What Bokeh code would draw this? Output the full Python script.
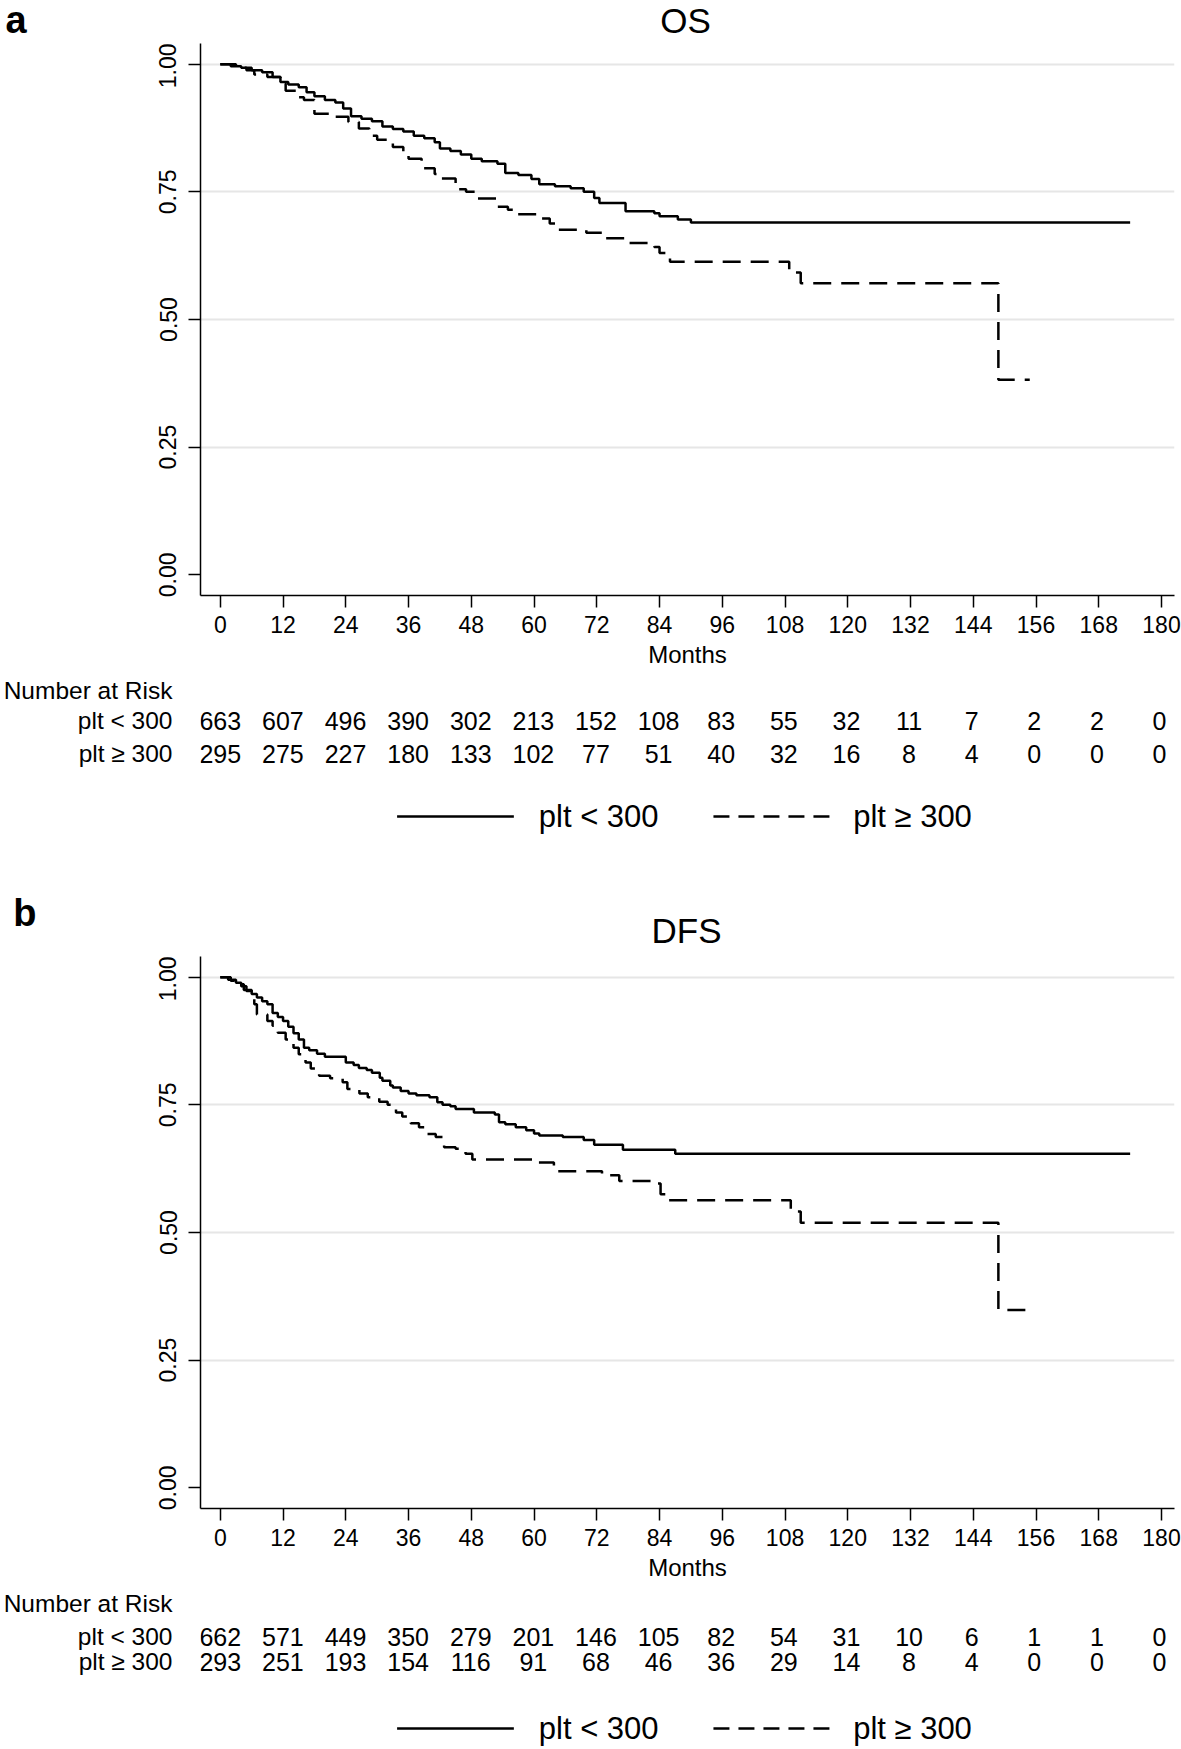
from bokeh.plotting import figure
from bokeh.layouts import column
from bokeh.models import Range1d, FixedTicker, NumeralTickFormatter, LinearAxis
from bokeh.core.properties import value
from bokeh.embed import file_html
from bokeh.resources import INLINE

# ---------------- data ----------------
month_ticks = list(range(0, 181, 12))
surv_ticks = [0.0, 0.25, 0.5, 0.75, 1.0]
grid_ticks = [0.25, 0.5, 0.75, 1.0]
groups = ["plt < 300", "plt \u2265 300"]
risk_title = "Number at Risk"
panel_titles = ["OS", "DFS"]
panel_tags = ["a", "b"]

# OS, plt < 300 (step times in months, survival after step)
os_t_lo = [0, 2, 4, 6, 8, 10, 11.5, 13, 15, 16.5, 18, 20, 22, 23.5, 25, 27, 29, 31, 33, 35,
           37, 39, 41, 42, 44, 46, 48, 50, 53, 54.5, 57, 59.5, 61, 64, 67, 69.5, 71.5, 72.5,
           77.5, 83, 84, 87.5, 90, 174]
os_s_lo = [1.0, 0.996, 0.993, 0.988, 0.984, 0.975, 0.965, 0.960, 0.955, 0.945, 0.937, 0.930,
           0.925, 0.913, 0.898, 0.893, 0.888, 0.878, 0.873, 0.868, 0.860, 0.855, 0.847, 0.835,
           0.830, 0.823, 0.815, 0.810, 0.805, 0.787, 0.783, 0.775, 0.765, 0.761, 0.757, 0.750,
           0.738, 0.728, 0.712, 0.708, 0.702, 0.696, 0.690, 0.690]
# OS, plt >= 300
os_t_hi = [0, 3, 5, 6.5, 9, 11.5, 12.5, 14.5, 16, 18, 22, 24.5, 26.5, 28.5, 30, 33, 35, 36,
           38.5, 41, 42, 45, 47, 49, 53, 55, 56.5, 61, 63, 64.5, 70, 73, 77.5, 83, 84, 86,
           108.8, 111, 148.8, 154.8]
os_s_hi = [1.0, 0.993, 0.988, 0.980, 0.975, 0.962, 0.948, 0.935, 0.930, 0.903, 0.897, 0.887,
           0.874, 0.860, 0.852, 0.838, 0.825, 0.815, 0.796, 0.785, 0.776, 0.755, 0.750, 0.737,
           0.721, 0.715, 0.706, 0.698, 0.688, 0.676, 0.670, 0.659, 0.650, 0.642, 0.630, 0.613,
           0.592, 0.571, 0.382, 0.382]

# DFS, plt < 300
dfs_t_lo = [0, 1.5, 3, 4, 5, 6, 7, 8, 9, 10, 11, 12, 13, 14, 15, 16, 17, 18.5, 20, 24, 25.5,
            26.5, 28, 29, 30.5, 31, 32.5, 33, 34.5, 36, 37.5, 40, 41.5, 42.5, 44, 45, 48.5,
            52.5, 53.3, 54.5, 56.5, 58.5, 60, 61, 65.5, 69.5, 71.5, 77, 87, 174]
dfs_s_lo = [1.0, 0.995, 0.989, 0.982, 0.973, 0.967, 0.960, 0.953, 0.947, 0.930, 0.922, 0.914,
            0.903, 0.890, 0.878, 0.862, 0.857, 0.850, 0.844, 0.833, 0.828, 0.822, 0.818, 0.813,
            0.803, 0.797, 0.788, 0.784, 0.777, 0.772, 0.769, 0.765, 0.755, 0.750, 0.747, 0.742,
            0.735, 0.731, 0.716, 0.712, 0.706, 0.700, 0.694, 0.690, 0.687, 0.681, 0.672, 0.662,
            0.654, 0.654]
# DFS, plt >= 300
dfs_t_hi = [0, 2, 3, 4.5, 6, 6.5, 7, 9, 10, 11, 12.5, 14, 15, 16.3, 17.3, 18.9, 21, 23.4, 24.3,
            26.6, 28.2, 30.4, 32, 33.6, 34.8, 36.4, 38, 39.3, 41.2, 42.8, 45, 46.9, 48.2, 60.3,
            63.8, 73, 76.3, 83.3, 84.2, 85.8, 109.1, 111, 148.8, 154.8]
dfs_s_hi = [1.0, 0.993, 0.986, 0.975, 0.960, 0.947, 0.927, 0.914, 0.905, 0.891, 0.878, 0.862,
            0.849, 0.833, 0.821, 0.807, 0.802, 0.794, 0.781, 0.772, 0.765, 0.756, 0.750, 0.735,
            0.727, 0.714, 0.706, 0.693, 0.687, 0.667, 0.664, 0.654, 0.643, 0.637, 0.620, 0.612,
            0.601, 0.596, 0.575, 0.563, 0.541, 0.519, 0.348, 0.348]

# numbers at risk
os_risk_lo = [663, 607, 496, 390, 302, 213, 152, 108, 83, 55, 32, 11, 7, 2, 2, 0]
os_risk_hi = [295, 275, 227, 180, 133, 102, 77, 51, 40, 32, 16, 8, 4, 0, 0, 0]
dfs_risk_lo = [662, 571, 449, 350, 279, 201, 146, 105, 82, 54, 31, 10, 6, 1, 1, 0]
dfs_risk_hi = [293, 251, 193, 154, 116, 91, 68, 46, 36, 29, 14, 8, 4, 0, 0, 0]

# ---------------- layout constants (pixels) ----------------
FONT = "Liberation Sans"
PX0, PPM = 217.8, 5.229          # page x of month 0, pixels per month
PAGE_W = 1181
FRAME_L, FRAME_R = 198, 1172
FRAME_H = 552
PLOT_H = 633
Y0, Y1 = -0.0405, 1.0405


def m_at(px):
    return (px - PX0) / PPM


def base_fig(height, left=FRAME_L, right=FRAME_R):
    q = figure(width=PAGE_W, height=height,
               x_range=Range1d(m_at(left), m_at(right)), y_range=Range1d(height, 0),
               x_axis_type=None, y_axis_type=None,
               min_border_left=left, min_border_right=PAGE_W - right,
               min_border_top=0, min_border_bottom=0,
               output_backend="svg", toolbar_location=None,
               background_fill_color="white", border_fill_color="white",
               outline_line_color=None)
    q.grid.visible = False
    return q


def side_labels(q, ticks, labels, size, standoff, style="normal"):
    ax = LinearAxis(ticker=FixedTicker(ticks=ticks, minor_ticks=[]),
                    major_label_overrides={t: s for t, s in zip(ticks, labels)})
    ax.axis_line_color = None
    ax.major_tick_line_color = None
    ax.minor_tick_line_color = None
    ax.major_tick_out = 0
    ax.major_tick_in = 0
    ax.major_label_standoff = standoff
    ax.major_label_text_font = FONT
    ax.major_label_text_font_size = size
    ax.major_label_text_font_style = style
    ax.major_label_text_color = "black"
    q.add_layout(ax, "left")


def add_title(q, title, title_y):
    q.text(x=[m_at((FRAME_L + FRAME_R) / 2)], y=[title_y], text=[title], text_align="center",
           text_baseline="middle", text_font=value(FONT), text_font_size=value("35px"),
           text_color="black")


def km_fig(t_lo, s_lo, t_hi, s_hi):
    p = figure(frame_width=FRAME_R - FRAME_L, frame_height=FRAME_H,
               min_border_left=FRAME_L, min_border_right=PAGE_W - FRAME_R,
               min_border_top=0, min_border_bottom=PLOT_H - FRAME_H,
               x_range=Range1d(m_at(FRAME_L), m_at(FRAME_R)), y_range=Range1d(Y0, Y1),
               output_backend="svg", toolbar_location=None,
               background_fill_color="white", border_fill_color="white",
               outline_line_color=None)
    p.step(t_lo, s_lo, mode="after", line_color="black", line_width=2.5)
    p.step(t_hi, s_hi, mode="after", line_color="black", line_width=2.5, line_dash="18 10")

    p.xaxis.ticker = FixedTicker(ticks=month_ticks)
    p.yaxis.ticker = FixedTicker(ticks=surv_ticks)
    p.yaxis.formatter = NumeralTickFormatter(format="0.00")
    p.yaxis.major_label_orientation = "vertical"
    for ax in (p.xaxis[0], p.yaxis[0]):
        ax.axis_line_color = "black"
        ax.axis_line_width = 1.5
        ax.major_tick_line_color = "black"
        ax.major_tick_line_width = 1.5
        ax.major_tick_out = 12
        ax.major_tick_in = 0
        ax.minor_tick_line_color = None
        ax.major_label_text_font = FONT
        ax.major_label_text_font_size = "23px"
        ax.major_label_text_color = "black"
    p.xaxis.major_label_standoff = 8
    p.yaxis.major_label_standoff = 12
    p.xaxis.axis_label = "Months"
    p.xaxis.axis_label_text_font = FONT
    p.xaxis.axis_label_text_font_size = "24px"
    p.xaxis.axis_label_text_font_style = "normal"
    p.xaxis.axis_label_text_color = "black"
    p.xaxis.axis_label_standoff = 5

    p.xgrid.visible = False
    p.ygrid.ticker = FixedTicker(ticks=grid_ticks)
    p.ygrid.grid_line_color = "#e6e6e6"
    p.ygrid.grid_line_width = 2
    return p


LEG_LINES = [(395, 512), (712, 829)]
LEG_TEXT_X = [537, 852]


def table_fig(height, rows_y, leg_y, risk_lo, risk_hi):
    q = base_fig(height)
    nar_y, r1, r2 = rows_y
    side_labels(q, [nar_y, r1, r2], [risk_title] + groups, "24.5px", 28)
    common = dict(text_font=value(FONT), text_font_size=value("25px"),
                  text_color="black", text_baseline="middle", text_align="center")
    q.text(x=month_ticks, y=[r1] * len(month_ticks), text=[str(v) for v in risk_lo], **common)
    q.text(x=month_ticks, y=[r2] * len(month_ticks), text=[str(v) for v in risk_hi], **common)
    # legend
    (a0, a1), (b0, b1) = LEG_LINES
    q.line(x=[m_at(a0), m_at(a1)], y=[leg_y, leg_y], line_color="black", line_width=2.5)
    q.line(x=[m_at(b0), m_at(b1)], y=[leg_y, leg_y], line_color="black", line_width=2.5,
           line_dash="16 9")
    q.text(x=[m_at(x) for x in LEG_TEXT_X], y=[leg_y] * 2, text=groups, text_align="left",
           text_baseline="middle", text_font=value(FONT), text_font_size=value("31px"),
           text_color="black")
    return q


# header of panel a: full-width frame, tag drawn as text
headA = base_fig(43, left=0, right=PAGE_W)
headA.text(x=[m_at(5)], y=[19], text=[panel_tags[0]], text_align="left", text_baseline="middle",
           text_font=value(FONT), text_font_size=value("38px"), text_font_style="bold",
           text_color="black")
add_title(headA, panel_titles[0], 20)

figA = km_fig(os_t_lo, os_s_lo, os_t_hi, os_s_hi)
tabA = table_fig(214, (6, 44, 77), 140, os_risk_lo, os_risk_hi)

headB = base_fig(66)
side_labels(headB, [22], [panel_tags[1]], "38px", 164, "bold")
add_title(headB, panel_titles[1], 40)

figB = km_fig(dfs_t_lo, dfs_s_lo, dfs_t_hi, dfs_s_hi)
tabB = table_fig(160, (5, 47, 72), 139, dfs_risk_lo, dfs_risk_hi)

layout = column(headA, column(figA, tabA, headB, figB, tabB, spacing=0), spacing=0)
open("out.html", "w").write(file_html(layout, INLINE))
